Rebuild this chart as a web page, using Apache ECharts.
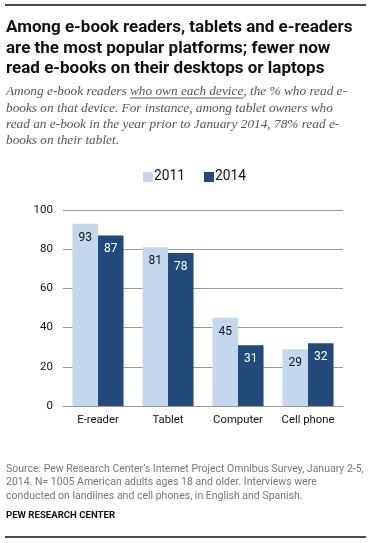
<!DOCTYPE html><html><head><meta charset="utf-8"><script src="https://cdn.jsdelivr.net/npm/echarts@6/dist/echarts.min.js"></script></head><body style="margin:0;background:#fff"><div id="c" style="width:371px;height:543px"></div><script>
var categories = ['E-reader', 'Tablet', 'Computer', 'Cell phone'];
var seriesNames = ['2011', '2014'];
var values2011 = [93, 81, 45, 29];
var values2014 = [87, 78, 31, 32];
var yMin = 0, yMax = 100, yStep = 20;

var titleLines = [
  'Among e-book readers, tablets and e-readers',
  'are the most popular platforms; fewer now',
  'read e-books on their desktops or laptops'
];
var subtitleLines = [
  'Among e-book readers who own each device, the % who read e-',
  'books on that device. For instance, among tablet owners who',
  'read an e-book in the year prior to January 2014, 78% read e-',
  'books on their tablet.'
];
var underlinePhrase = 'who own each device';
var sourceLines = [
  'Source: Pew Research Center\u2019s Internet Project Omnibus Survey, January 2-5,',
  '2014. N= 1005 American adults ages 18 and older. Interviews were',
  'conducted on landlines and cell phones, in English and Spanish.'
];
var creditText = 'PEW RESEARCH CENTER';

var LIGHT = '#c5d7ed', DARK = '#234a7c';
var titleFont = 'bold 17px Roboto';
var subFont = 'italic 13.3px "Liberation Serif"';
var srcFont = '10.5px Roboto';

var g = [];
g.push({type:'line', shape:{x1:5,y1:5,x2:366,y2:5}, style:{stroke:'#111', lineWidth:1.5}});
g.push({type:'line', shape:{x1:5,y1:537,x2:366,y2:537}, style:{stroke:'#111', lineWidth:1.5}});
titleLines.forEach(function(t,i){
  g.push({type:'text', style:{text:t, x:6, y:28+i*20.5, font:titleFont, fill:'#111', verticalAlign:'middle'}});
});
subtitleLines.forEach(function(t,i){
  g.push({type:'text', style:{text:t, x:6, y:92+i*16.2, font:subFont, fill:'#555', verticalAlign:'middle'}});
});
// underline
var cv = document.createElement('canvas').getContext('2d');
cv.font = subFont;
var pre = subtitleLines[0].slice(0, subtitleLines[0].indexOf(underlinePhrase));
var ux1 = 6 + cv.measureText(pre).width, ux2 = ux1 + cv.measureText(underlinePhrase).width;
g.push({type:'line', shape:{x1:ux1,y1:98,x2:ux2,y2:98}, style:{stroke:'#555', lineWidth:1}});
sourceLines.forEach(function(t,i){
  g.push({type:'text', style:{text:t, x:6, y:469+i*13.5, font:srcFont, fill:'#777', verticalAlign:'middle'}});
});
g.push({type:'text', style:{text:creditText, x:6, y:516, font:'bold 9.6px Roboto', fill:'#111', verticalAlign:'middle'}});

var labelBase = {show:true, position:'insideTop', distance:8, fontFamily:'Roboto', fontSize:12};
var chart = echarts.init(document.getElementById('c'));
chart.setOption({
  animation:false,
  backgroundColor:'#fff',
  graphic:g,
  legend:{
    data:seriesNames, top:170, left:143, padding:0, itemWidth:10, itemHeight:10, itemGap:19,
    icon:'rect', textStyle:{fontFamily:'Roboto', fontSize:13.8, color:'#111', padding:[0,0,0,-4]}
  },
  grid:{left:63, right:28, top:210, bottom:137},
  xAxis:{
    type:'category', data:categories,
    axisLine:{show:true, lineStyle:{color:'#999'}}, axisTick:{show:false},
    axisLabel:{margin:9, fontFamily:'Roboto', fontSize:11.3, color:'#111'}
  },
  yAxis:{
    type:'value', min:yMin, max:yMax, interval:yStep,
    axisLine:{show:false}, axisTick:{show:false},
    splitLine:{lineStyle:{color:'#999'}},
    axisLabel:{margin:10, fontFamily:'Roboto', fontSize:11.5, color:'#111'}
  },
  series:[
    {name:seriesNames[0], type:'bar', data:values2011, barGap:0, barCategoryGap:'27%',
     itemStyle:{color:LIGHT}, label:Object.assign({color:'#111'}, labelBase)},
    {name:seriesNames[1], type:'bar', data:values2014, barGap:0, barCategoryGap:'27%',
     itemStyle:{color:DARK}, label:Object.assign({color:'#fff'}, labelBase)}
  ]
});
</script></body></html>
